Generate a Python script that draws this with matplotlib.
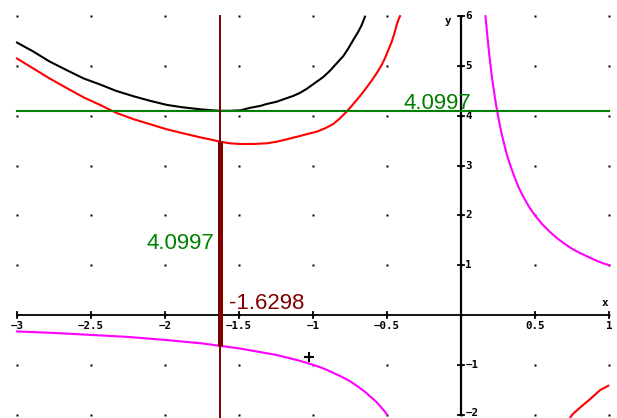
import matplotlib
matplotlib.use("Agg")
import matplotlib.pyplot as plt

# ---- data ----
black_x = [-3.0, -2.89, -2.78, -2.66, -2.55, -2.44, -2.33, -2.21, -2.10, -1.99, -1.88, -1.76,
           -1.70, -1.63, -1.56, -1.49, -1.426, -1.358, -1.313, -1.245, -1.200, -1.133, -1.088,
           -1.043, -0.975, -0.930, -0.885, -0.840, -0.795, -0.761, -0.728, -0.694, -0.671, -0.649]
black_y = [5.47, 5.29, 5.09, 4.91, 4.75, 4.63, 4.50, 4.39, 4.30, 4.22, 4.17, 4.13,
           4.115, 4.10, 4.10, 4.11, 4.16, 4.197, 4.237, 4.283, 4.331, 4.40, 4.46,
           4.54, 4.685, 4.78, 4.906, 5.054, 5.201, 5.355, 5.522, 5.689, 5.823, 5.99]

red_x = [-3.0, -2.89, -2.78, -2.66, -2.55, -2.44, -2.33, -2.21, -2.10, -1.99, -1.88, -1.764,
         -1.696, -1.628, -1.561, -1.493, -1.403, -1.313, -1.245, -1.178, -1.133, -1.088,
         -1.020, -0.975, -0.919, -0.863, -0.818, -0.773, -0.739, -0.705, -0.671, -0.637,
         -0.604, -0.570, -0.536, -0.514, -0.491, -0.468, -0.450, -0.435, -0.419, -0.412]
red_y = [5.15, 4.95, 4.75, 4.55, 4.37, 4.22, 4.06, 3.93, 3.83, 3.73, 3.65, 3.568,
         3.527, 3.480, 3.447, 3.434, 3.434, 3.447, 3.480, 3.527, 3.561, 3.594,
         3.648, 3.681, 3.748, 3.835, 3.949, 4.083, 4.197, 4.317, 4.438, 4.572,
         4.705, 4.853, 5.020, 5.155, 5.321, 5.488, 5.657, 5.823, 5.958, 6.0]

red2_x = [0.74, 0.755, 0.804, 0.872, 0.939, 0.995]
red2_y = [-2.05, -1.99, -1.86, -1.69, -1.51, -1.42]

mag1_x = [-3.0, -2.75, -2.5, -2.25, -2.0, -1.75, -1.5, -1.25, -1.1, -1.0, -0.95, -0.9, -0.85,
          -0.8, -0.75, -0.7, -0.65, -0.6, -0.57, -0.55, -0.52, -0.5]
mag1_y = [-0.33, -0.36, -0.40, -0.44, -0.50, -0.57, -0.67, -0.80, -0.91, -1.0, -1.05, -1.11, -1.18,
          -1.25, -1.33, -1.43, -1.54, -1.67, -1.75, -1.82, -1.92, -2.0]

mag2_x = [0.165, 0.17, 0.175, 0.18, 0.19, 0.2, 0.21, 0.22, 0.235, 0.25, 0.27, 0.29, 0.31,
          0.33, 0.36, 0.39, 0.42, 0.46, 0.5, 0.55, 0.6, 0.65, 0.7, 0.75, 0.8, 0.85, 0.9, 0.95, 1.0]
mag2_y = [6.0, 5.85, 5.7, 5.55, 5.25, 5.0, 4.75, 4.55, 4.25, 4.0, 3.7, 3.45, 3.22,
          3.03, 2.78, 2.56, 2.38, 2.17, 2.0, 1.82, 1.67, 1.54, 1.43, 1.33, 1.25, 1.18, 1.11, 1.05, 1.0]

level_value = 4.0997
x_star = -1.6298
bar_low = -0.614
bar_high = 3.49

cursor_pt = (-1.027, -0.84)

xticks = [-3, -2.5, -2, -1.5, -1, -0.5, 0.5, 1]
xtick_labels = ["\u22123", "\u22122.5", "\u22122", "\u22121.5", "\u22121", "\u22120.5", "0.5", "1"]
yticks = [-2, -1, 1, 2, 3, 4, 5, 6]
ytick_labels = ["\u22122", "\u22121", "1", "2", "3", "4", "5", "6"]

XMIN, XMAX = -3, 1
YMIN, YMAX = -2, 6

# ---- figure ----
fig = plt.figure(figsize=(6.17, 4.18), dpi=100)
ax = fig.add_axes([0, 0, 1, 1])
ax.set_xlim(-3.115, 1.054)
ax.set_ylim(-2.068, 6.325)
ax.axis("off")

# grid dots
gx = [XMIN + 0.5 * i for i in range(int((XMAX - XMIN) / 0.5) + 1)]
gy = list(range(YMIN, YMAX + 1))
for yy in gy:
    ax.plot(gx, [yy] * len(gx), ls="none", marker="s", ms=1.6, mec="none", mfc="black", zorder=1)

# axes
ax.plot([XMIN, XMAX], [0, 0], color="black", lw=1.3, zorder=2, solid_capstyle="butt")
ax.plot([0, 0], [YMIN, YMAX], color="black", lw=1.6, zorder=2, solid_capstyle="butt")
tx = 0.02
ty = 0.06
for xv, lab in zip(xticks, xtick_labels):
    ax.plot([xv, xv], [-ty, ty], color="black", lw=1.3, zorder=2)
    ax.text(xv, -0.12, lab, ha="center", va="top", fontsize=7.8,
            family="DejaVu Sans Mono", weight="bold")
for yv, lab in zip(yticks, ytick_labels):
    ax.plot([-tx, tx], [yv, yv], color="black", lw=1.3, zorder=2)
    ax.text(0.03, max(yv, -1.97), lab, ha="left", va="center", fontsize=7.8,
            family="DejaVu Sans Mono", weight="bold")
ax.text(0.975, 0.14, "x", ha="center", va="bottom", fontsize=7.8,
        family="DejaVu Sans Mono", weight="bold")
ax.text(-0.085, 5.9, "y", ha="center", va="center", fontsize=7.8,
        family="DejaVu Sans Mono", weight="bold")

# curves
lw = 1.5
ax.plot(black_x, black_y, color="black", lw=lw, zorder=3)
ax.plot(red_x, red_y, color="#ff0000", lw=lw, zorder=3)
ax.plot(red2_x, red2_y, color="#ff0000", lw=lw, zorder=3)
ax.plot(mag1_x, mag1_y, color="#ff00ff", lw=lw, zorder=3)
ax.plot(mag2_x, mag2_y, color="#ff00ff", lw=lw, zorder=3)

# horizontal level line
ax.plot([XMIN, XMAX], [level_value, level_value], color="#008000", lw=1.5, zorder=4)

# vertical line and thick bar
ax.plot([x_star, x_star], [YMAX, -2.2], color="#800000", lw=1.4, zorder=5)
ax.plot([x_star, x_star], [bar_low, bar_high], color="#800000", lw=3.6, zorder=5,
        solid_capstyle="butt")

# labels
ax.text(-1.669, 1.325, "4.0997", ha="right", va="baseline", fontsize=16,
        family="Liberation Sans", color="#008000")
ax.text(0.072, 4.13, "4.0997", ha="right", va="baseline", fontsize=16,
        family="Liberation Sans", color="#008000")
ax.text(-1.566, 0.12, "-1.6298", ha="left", va="baseline", fontsize=16,
        family="Liberation Sans", color="#800000")

# cursor cross
ax.plot([cursor_pt[0]], [cursor_pt[1]], marker="+", ms=7, mew=1.5, color="black", zorder=6)

fig.savefig("out.png", dpi=100)
